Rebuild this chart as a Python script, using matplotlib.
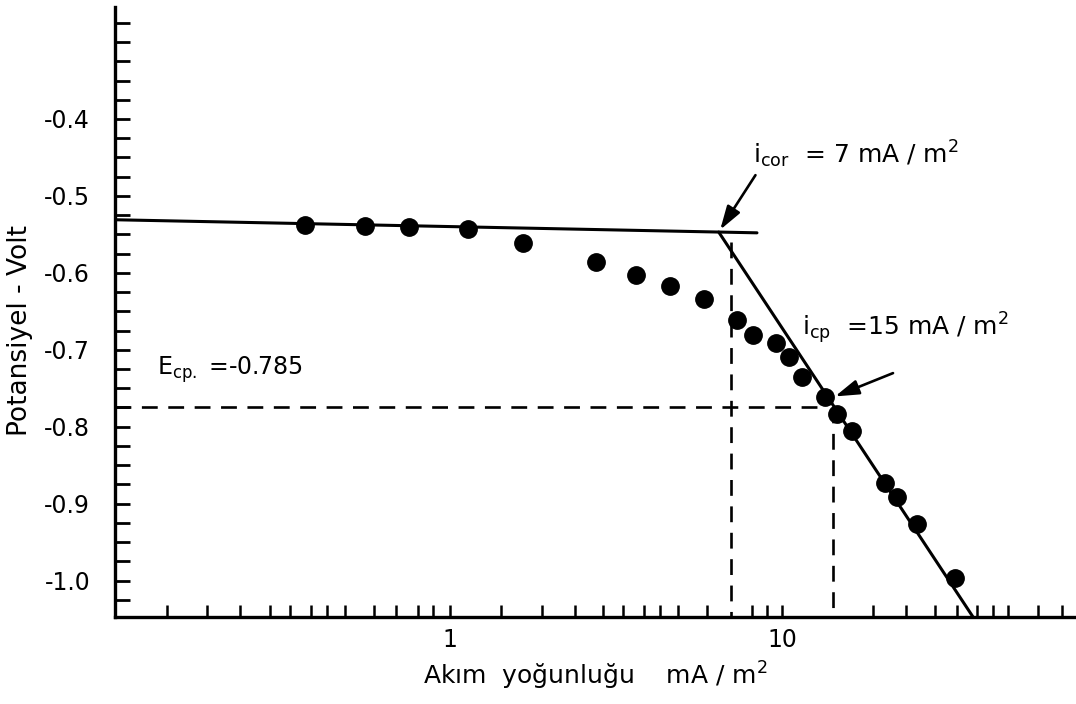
import numpy as np
import matplotlib
matplotlib.use("Agg")
import matplotlib.pyplot as plt

plt.rcParams['font.family'] = ['DejaVu Sans']
plt.rcParams['mathtext.fontset'] = 'custom'
plt.rcParams['mathtext.rm'] = 'DejaVu Sans'
plt.rcParams['mathtext.it'] = 'DejaVu Sans'

# measured points: current density (mA/m2) vs potential (V)
current = [0.366, 0.555, 0.752, 1.13, 1.66, 2.75, 3.63, 4.60, 5.82, 7.32, 8.18,
           9.59, 10.5, 11.5, 13.5, 14.7, 16.3, 20.4, 22.2, 25.5, 33.2]
potential = [-0.538, -0.539, -0.540, -0.543, -0.561, -0.586, -0.603, -0.617, -0.634,
             -0.661, -0.681, -0.691, -0.710, -0.735, -0.761, -0.784, -0.806, -0.873,
             -0.892, -0.927, -0.997]

# fitted straight lines (end points)
flat_x = [0.098, 8.41]
flat_y = [-0.531, -0.548]
steep_x = [6.45, 37.6]
steep_y = [-0.547, -1.047]

i_cor = 7.0
i_cp = 14.3
E_cp = -0.775

y_major = [-1.0, -0.9, -0.8, -0.7, -0.6, -0.5, -0.4]
y_labels = ['-1.0', '-0.9', '-0.8', '-0.7', '-0.6', '-0.5', '-0.4']
x_major = [1, 10]
x_labels = ['1', '10']
# hand drawn minor ticks on the current axis
x_minor = [0.14, 0.185, 0.233, 0.287, 0.33, 0.381, 0.426, 0.483, 0.59, 0.687, 0.80,
           0.889, 1.42, 1.89, 2.38, 2.89, 3.32, 3.84, 4.29, 4.86, 5.94, 8.12, 9.01,
           18.8, 23.6, 28.9, 33.7, 38.7, 43.2, 48.0, 59.0, 69.7]

fig = plt.figure(figsize=(10.76, 7.04), dpi=100)
ax = fig.add_axes([0.107, 0.124, 0.893, 0.866])
ax.set_xscale('log')
ax.set_xlim(0.098, 76.9)
ax.set_ylim(-1.047, -0.2545)

for s in ['top', 'right']:
    ax.spines[s].set_visible(False)
for s in ['left', 'bottom']:
    ax.spines[s].set_linewidth(2.4)

lw = 2.2
ax.plot(flat_x, flat_y, color='black', lw=lw, solid_capstyle='round')
ax.plot(steep_x, steep_y, color='black', lw=lw, solid_capstyle='round')
ax.plot(current, potential, 'o', color='black', markersize=12.5, zorder=5)

dash = dict(color='black', lw=1.9, dashes=(6, 4))
ax.plot([0.098, 13.5], [E_cp, E_cp], **dash)
ax.plot([i_cor, i_cor], [-0.56, -1.047], **dash)
ax.plot([i_cp, i_cp], [E_cp, -1.047], **dash)

arrow = dict(arrowstyle='-|>,head_length=0.8,head_width=0.25', color='black', lw=1.9, mutation_scale=18)
ax.annotate('', xy=(6.45, -0.547), xytext=(8.41, -0.470), arrowprops=arrow)
ax.annotate('', xy=(14.2, -0.762), xytext=(22.0, -0.729), arrowprops=arrow)

fs = 17
ax.text(8.2, -0.446, r'i$_{\mathregular{cor}}$  = 7 mA / m$^2$', fontsize=18, va='center', ha='left')
ax.text(11.5, -0.672, r'i$_{\mathregular{cp}}$  =15 mA / m$^2$', fontsize=18, va='center', ha='left')
ax.text(0.131, -0.726, r'E$_{\mathregular{cp.}}$ =-0.785', fontsize=17, va='center', ha='left')

ax.set_yticks(y_major)
ax.set_yticklabels(y_labels, fontsize=fs)
ax.set_yticks(np.arange(-1.025, -0.27, 0.025), minor=True)
ax.set_xticks(x_major)
ax.set_xticklabels(x_labels, fontsize=fs)
ax.set_xticks(x_minor, minor=True)
ax.xaxis.set_minor_formatter(matplotlib.ticker.NullFormatter())

ax.tick_params(axis='y', which='both', direction='in', length=11, width=2.0, pad=18)
ax.tick_params(axis='x', which='major', direction='in', length=9, width=1.8, pad=8)
ax.tick_params(axis='x', which='minor', direction='in', length=9, width=1.8)

ax.set_xlabel(u'Akım  yoğunluğu    mA / m$^2$', fontsize=18, labelpad=6)
ax.set_ylabel('Potansiyel - Volt', fontsize=19, labelpad=6)
ax.yaxis.set_label_coords(-0.085, 0.47)

fig.savefig('out.png', dpi=100)
